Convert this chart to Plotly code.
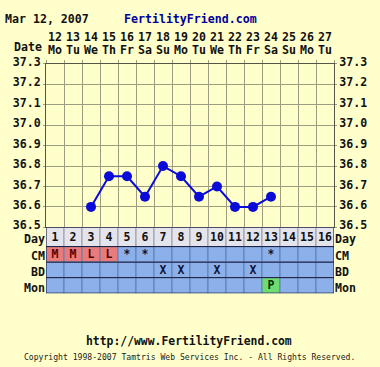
import plotly.graph_objects as go

# ---------------- data ----------------
days = list(range(1, 17))
date_nums = ["12", "13", "14", "15", "16", "17", "18", "19", "20", "21", "22", "23", "24", "25", "26", "27"]
weekdays = ["Mo", "Tu", "We", "Th", "Fr", "Sa", "Su", "Mo", "Tu", "We", "Th", "Fr", "Sa", "Su", "Mo", "Tu"]
temp_days = [3, 4, 5, 6, 7, 8, 9, 10, 11, 12, 13]
temps = [36.60, 36.75, 36.75, 36.65, 36.80, 36.75, 36.65, 36.70, 36.60, 36.60, 36.65]
temp_ticks = [36.5, 36.6, 36.7, 36.8, 36.9, 37.0, 37.1, 37.2, 37.3]
row_names = ["Day", "CM", "BD", "Mon"]
day_row = [str(d) for d in days]
cm_row = ["M", "M", "L", "L", "*", "*", "", "", "", "", "", "", "*", "", "", ""]
bd_row = ["", "", "", "", "", "", "X", "X", "", "X", "", "X", "", "", "", ""]
mon_row = ["", "", "", "", "", "", "", "", "", "", "", "", "P", "", "", ""]

# ---------------- layout constants ----------------
W, H = 380, 367
FONT = "DejaVu Sans Mono"
BG = "#FFFFCC"
GRID = "#9c9c80"
BORDER = "#55554a"
DAY_BG = "#E4E4EC"
BLUE = "#8CB0EA"
CELL_FILL = {"M": "#E87C7C", "L": "#E87C7C", "P": "#6EDC6E"}
CELL_TEXT = {"M": "#5a0000", "L": "#5a0000", "P": "#063006"}

def px_x(p):
    return p / W

def px_y(p):
    return 1 - p / H

X0, X1 = 46, 334          # plot area, pixels
YT, YB = 57, 227          # temperature panel, pixels
TB = 295.5                # bottom of table, pixels
# table row edges (pixel heights from table bottom)
row_edges = [(48.5, 68.5), (32.3, 48.5), (16.2, 32.3), (0.0, 16.2)]
rows = [day_row, cm_row, bd_row, mon_row]

fig = go.Figure()

# ---- table cells ----
for name, vals, (lo, hi) in zip(row_names, rows, row_edges):
    if name == "Day":
        fills = [DAY_BG] * len(vals)
        tcols = ["#111111"] * len(vals)
        lcol = "#9a9aa8"
    else:
        fills = [CELL_FILL.get(v, BLUE) for v in vals]
        tcols = [CELL_TEXT.get(v, "#111133") for v in vals]
        lcol = "#5f7fb4"
    fig.add_trace(go.Bar(
        x=days, y=[hi - lo] * len(days), base=[lo] * len(days), width=1,
        marker=dict(color=fills, line=dict(color=lcol, width=1)),
        xaxis="x4", yaxis="y2", hoverinfo="skip", showlegend=False))
    fig.add_trace(go.Scatter(
        x=days, y=[(lo + hi) / 2 - 1 for _ in days], mode="text", text=vals,
        textfont=dict(family=FONT, size=11.5, color=tcols, weight="bold"),
        xaxis="x4", yaxis="y2", hoverinfo="skip", showlegend=False))

# horizontal table lines
edges = sorted({e for pair in row_edges for e in pair})
for e in edges:
    fig.add_trace(go.Scatter(
        x=[0.5, 16.5], y=[e, e], mode="lines",
        line=dict(color="#1c1c3c", width=1),
        xaxis="x4", yaxis="y2", hoverinfo="skip", showlegend=False))
for xe in (0.5, 16.5):
    fig.add_trace(go.Scatter(
        x=[xe, xe], y=[edges[0], edges[-1]], mode="lines",
        line=dict(color="#1c1c3c", width=1),
        xaxis="x4", yaxis="y2", hoverinfo="skip", showlegend=False))

# ---- temperature line ----
fig.add_trace(go.Scatter(
    x=temp_days, y=temps, mode="lines+markers",
    line=dict(color="#0b0bd8", width=2),
    marker=dict(color="#0b0bd8", size=10),
    xaxis="x", yaxis="y", showlegend=False))

# helper traces so overlay axes are drawn
fig.add_trace(go.Scatter(x=days, y=[None] * 16, xaxis="x2", yaxis="y", showlegend=False, hoverinfo="skip"))
fig.add_trace(go.Scatter(x=days, y=[None] * 16, xaxis="x3", yaxis="y3", showlegend=False, hoverinfo="skip"))
fig.add_trace(go.Scatter(x=days, y=[None] * 16, xaxis="x4", yaxis="y4", showlegend=False, hoverinfo="skip"))

tickfont = dict(family=FONT, size=11.6, color="#111111", weight="bold")
xdom = [px_x(X0), px_x(X1)]
bounds = [d - 0.5 for d in days] + [days[-1] + 0.5]
centers = [(lo + hi) / 2 for lo, hi in row_edges]

fig.update_layout(
    width=W, height=H, margin=dict(l=0, r=0, t=0, b=0),
    paper_bgcolor=BG, plot_bgcolor=BG, barmode="overlay", showlegend=False,
    xaxis=dict(domain=xdom, range=[0.5, 16.5], anchor="y", side="top",
               tickvals=bounds, ticks="outside", ticklen=3, tickcolor=GRID,
               showticklabels=False, showgrid=True, gridcolor=GRID, gridwidth=1,
               showline=True, linecolor=BORDER, linewidth=1, mirror=True, zeroline=False),
    xaxis2=dict(overlaying="x", range=[0.5, 16.5], anchor="y", side="top",
                tickvals=days, ticktext=date_nums, ticks="outside", ticklen=17,
                tickcolor="rgba(0,0,0,0)", showgrid=False, showline=False,
                zeroline=False, tickfont=tickfont),
    xaxis3=dict(overlaying="x", range=[0.5, 16.5], anchor="y3", side="top",
                tickvals=days, ticktext=weekdays, ticks="outside", ticklen=4,
                tickcolor="rgba(0,0,0,0)", showgrid=False, showline=False,
                zeroline=False, tickfont=tickfont),
    xaxis4=dict(domain=xdom, range=[0.5, 16.5], anchor="y2", visible=False),
    yaxis=dict(domain=[px_y(YB), px_y(YT)], range=[36.5, 37.3], anchor="x",
               tickvals=temp_ticks, tickformat=".1f", ticks="outside", ticklen=2,
               tickcolor=GRID, showgrid=True, gridcolor=GRID, gridwidth=1,
               showline=True, linecolor=BORDER, mirror=True, zeroline=False,
               tickfont=tickfont, ticklabelshift=-2),
    yaxis3=dict(overlaying="y", range=[36.5, 37.3], anchor="x", side="right",
                tickvals=temp_ticks, tickformat=".1f", ticks="outside", ticklen=2,
                tickcolor=GRID, showgrid=False, showline=False, zeroline=False,
                tickfont=tickfont, ticklabelshift=-2),
    yaxis2=dict(domain=[px_y(TB), px_y(YB)], range=[0, 68.5], anchor="x4",
                tickvals=centers, ticktext=row_names, ticks="", showgrid=False,
                showline=False, zeroline=False, tickfont=tickfont, ticklabelshift=2),
    yaxis4=dict(overlaying="y2", range=[0, 68.5], anchor="x4", side="right",
                tickvals=centers, ticktext=row_names, ticks="", showgrid=False,
                showline=False, zeroline=False, tickfont=tickfont, ticklabelshift=2),
)

ann_font = dict(family=FONT, size=11.6, color="#111111", weight="bold")
fig.add_annotation(text="Mar 12, 2007", x=px_x(3), y=px_y(10), xref="paper", yref="paper",
                   xanchor="left", yanchor="middle", showarrow=False, font=ann_font)
fig.add_annotation(text="FertilityFriend.com", x=px_x(122), y=px_y(10), xref="paper", yref="paper",
                   xanchor="left", yanchor="middle", showarrow=False,
                   font=dict(family=FONT, size=11.6, color="#000099", weight="bold"))
fig.add_annotation(text="Date", x=px_x(44), y=px_y(40), xref="paper", yref="paper",
                   xanchor="right", yanchor="middle", showarrow=False, font=ann_font)
fig.add_annotation(text="http://www.FertilityFriend.com", x=px_x(189), y=px_y(345),
                   xref="paper", yref="paper", xanchor="center", yanchor="middle",
                   showarrow=False, font=dict(family=FONT, size=11.4, color="#111111", weight="bold"))
fig.add_annotation(text="Copyright 1998-2007 Tamtris Web Services Inc. - All Rights Reserved.",
                   x=px_x(189), y=px_y(362), xref="paper", yref="paper", xanchor="center",
                   yanchor="middle", showarrow=False,
                   font=dict(family=FONT, size=8.1, color="#222222"))

fig.write_html("out.html", config={"displayModeBar": False},
               post_script="document.documentElement.style.margin='0';document.body.style.margin='0';"
                           "document.documentElement.style.background='" + BG + "';"
                           "document.body.style.background='" + BG + "';")
